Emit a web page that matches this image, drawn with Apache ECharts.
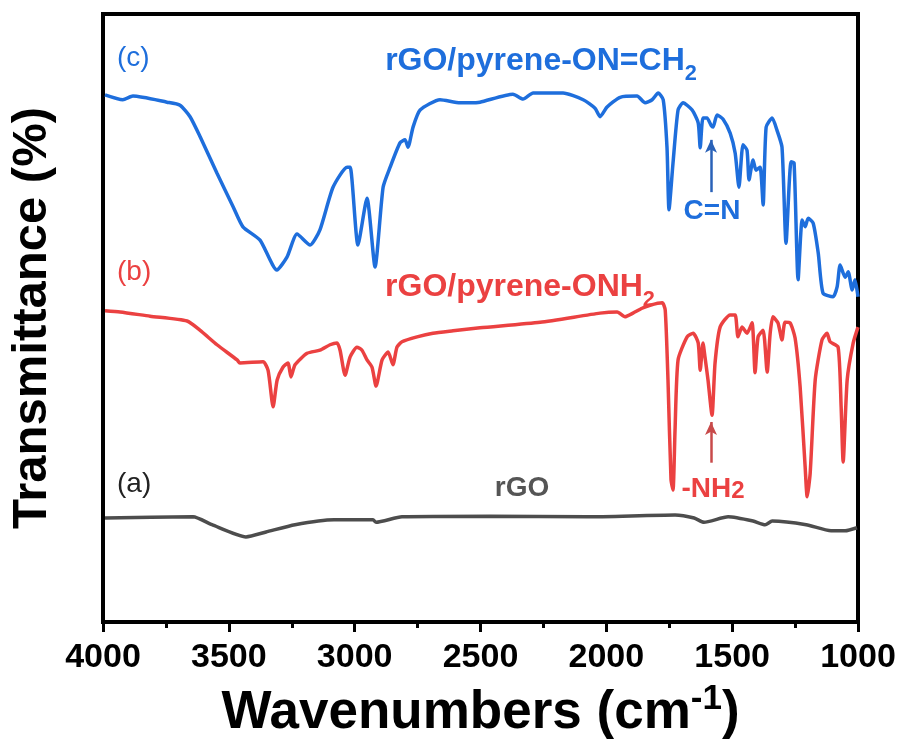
<!DOCTYPE html>
<html>
<head>
<meta charset="utf-8">
<script src="https://cdn.jsdelivr.net/npm/echarts@6/dist/echarts.min.js"></script>
<style>
html, body { margin: 0; padding: 0; background: #fff; }
#main { width: 903px; height: 745px; }
</style>
</head>
<body>
<div id="main"></div>
<script>
// FTIR spectra, [wavenumber (cm-1), transmittance (a.u.)]
var specA = [
  [3992, 17.1], [3642, 17.3], [3567, 16.0], [3432, 14.0], [3352, 14.8], [3237, 16.0],
  [3082, 16.8], [2927, 16.8], [2915, 16.4], [2812, 17.3], [2462, 17.4], [2077, 17.3],
  [1727, 17.6], [1651, 17.1], [1612, 16.4], [1516, 17.3], [1417, 16.6], [1369, 16.0],
  [1341, 16.6], [1206, 16.0], [1107, 15.0], [1051, 15.0], [1004, 15.5]
];
var specB = [
  [3992, 51.2], [3932, 51.0], [3813, 50.3], [3666, 49.5], [3615, 48.0], [3547, 45.6],
  [3467, 43.1], [3456, 42.6], [3364, 42.8], [3344, 41.4], [3324, 35.4], [3308, 39.8],
  [3285, 41.9], [3265, 42.6], [3253, 40.3], [3237, 42.3], [3189, 44.2], [3138, 44.7],
  [3098, 45.6], [3070, 45.9], [3058, 44.7], [3038, 40.6], [3018, 43.6], [2991, 45.2],
  [2971, 44.7], [2951, 43.1], [2931, 41.9], [2915, 38.8], [2891, 43.1], [2867, 44.4],
  [2848, 42.3], [2832, 45.2], [2812, 46.1], [2752, 46.9], [2689, 47.5], [2609, 47.9],
  [2502, 48.4], [2263, 49.3], [2025, 50.8], [1957, 51.0], [1926, 50.2], [1894, 50.8],
  [1858, 51.6], [1826, 52.1], [1778, 52.5], [1766, 51.3], [1755, 39.8], [1743, 23.4],
  [1735, 21.7], [1727, 31.6], [1715, 43.1], [1679, 46.9], [1655, 47.5], [1635, 45.9],
  [1627, 41.4], [1616, 45.9], [1608, 43.6], [1596, 39.8], [1580, 34.0], [1568, 42.6],
  [1548, 48.5], [1508, 50.5], [1488, 50.5], [1477, 46.9], [1461, 48.5], [1441, 47.5],
  [1421, 49.2], [1409, 41.0], [1397, 46.9], [1377, 48.0], [1361, 41.1], [1349, 47.5],
  [1338, 50.2], [1318, 49.2], [1302, 46.4], [1290, 49.3], [1270, 49.2], [1250, 46.7],
  [1230, 38.7], [1210, 25.5], [1202, 20.6], [1190, 24.5], [1170, 39.8], [1143, 46.4],
  [1123, 47.5], [1111, 46.1], [1079, 45.2], [1067, 35.4], [1059, 26.3], [1043, 39.8],
  [1019, 45.9], [1000, 48.5]
];
var specC = [
  [3992, 86.7], [3921, 85.9], [3881, 86.5], [3746, 85.5], [3694, 85.0], [3654, 83.1],
  [3614, 79.8], [3547, 73.8], [3483, 68.3], [3444, 65.0], [3376, 62.8], [3309, 57.9],
  [3269, 60.0], [3229, 63.8], [3177, 62.0], [3138, 64.5], [3086, 71.5], [3030, 74.8],
  [3018, 74.8], [2987, 62.0], [2951, 69.7], [2919, 58.4], [2887, 71.5], [2859, 74.8],
  [2820, 78.8], [2800, 79.3], [2788, 78.1], [2768, 81.4], [2740, 84.2], [2661, 85.9],
  [2581, 85.4], [2542, 85.4], [2502, 85.5], [2371, 86.8], [2331, 86.0], [2291, 87.0],
  [2172, 87.0], [2092, 85.9], [2045, 84.5], [2025, 83.1], [1997, 84.7], [1945, 86.3],
  [1878, 86.5], [1846, 85.4], [1818, 85.9], [1794, 87.0], [1774, 85.9], [1759, 78.1],
  [1751, 67.8], [1735, 75.5], [1715, 84.2], [1695, 85.4], [1659, 84.2], [1635, 82.1],
  [1627, 78.0], [1616, 82.9], [1600, 82.9], [1584, 81.7], [1576, 81.4], [1560, 83.4],
  [1536, 82.7], [1508, 80.4], [1488, 77.1], [1473, 71.5], [1457, 78.5], [1441, 77.6],
  [1433, 72.7], [1417, 76.0], [1405, 74.3], [1389, 74.8], [1377, 68.6], [1365, 81.4],
  [1341, 82.9], [1322, 80.9], [1302, 78.1], [1286, 62.3], [1266, 75.7], [1254, 75.5],
  [1238, 56.3], [1222, 66.1], [1210, 65.0], [1198, 66.4], [1178, 65.6], [1158, 60.7],
  [1139, 54.1], [1099, 53.5], [1083, 55.1], [1071, 58.7], [1051, 56.7], [1039, 57.6],
  [1023, 54.6], [1012, 56.3], [1000, 53.5]
];
var xTicks = [4000, 3500, 3000, 2500, 2000, 1500, 1000];
// arrows: [wavenumber, from, to]
var arrowCN = [1584, 70.7, 79.3];
var arrowNH2 = [1584, 26.2, 32.9];

var font = "'Liberation Sans', Arial, sans-serif";
var cBlue = '#1e6edc', cRed = '#eb4141', cGray = '#4d4d4d';

var chart = echarts.init(document.getElementById('main'));

function arrow(a, color) {
  return {
    silent: true,
    symbol: ['none', 'arrow'],
    symbolSize: [9, 13],
    label: { show: false },
    lineStyle: { color: color, width: 2.5, type: 'solid' },
    data: [[{ coord: [a[0], a[1]] }, { coord: [a[0], a[2]] }]]
  };
}

function subText(x, y, main, sub, color, size) {
  return {
    type: 'text', x: x, y: y,
    style: {
      text: '{m|' + main + '}{s|' + sub + '}',
      textAlign: 'center', textVerticalAlign: 'middle',
      rich: {
        m: { fontFamily: font, fontWeight: 'bold', fontSize: size, lineHeight: size, fill: color, color: color, verticalAlign: 'top' },
        s: { fontFamily: font, fontWeight: 'bold', fontSize: size * 0.68, lineHeight: size * 0.68, fill: color, color: color, verticalAlign: 'top', padding: [size * 0.55, 0, 0, 0] }
      }
    }
  };
}

function plainText(x, y, txt, color, size, weight, align) {
  return {
    type: 'text', x: x, y: y,
    style: {
      text: txt, fill: color, font: weight + ' ' + size + 'px ' + font,
      textAlign: align || 'left', textVerticalAlign: 'middle'
    }
  };
}

var option = {
  backgroundColor: '#fff',
  animation: false,
  grid: {
    left: 103, right: 45, top: 14, bottom: 123,
    show: true, borderColor: '#000', borderWidth: 4
  },
  xAxis: {
    type: 'value',
    inverse: true,
    min: xTicks[xTicks.length - 1],
    max: xTicks[0],
    interval: 500,
    name: '{t|Wavenumbers (cm}{u|-1}{t|)}',
    nameLocation: 'middle',
    nameGap: 60,
    nameTextStyle: {
      rich: {
        t: { fontFamily: font, fontWeight: 'bold', fontSize: 53, color: '#000', lineHeight: 58, verticalAlign: 'bottom' },
        u: { fontFamily: font, fontWeight: 'bold', fontSize: 35, color: '#000', lineHeight: 58, verticalAlign: 'top', padding: [0, 0, 14, 0] }
      }
    },
    axisLine: { lineStyle: { color: '#000', width: 4 } },
    axisTick: { show: true, inside: false, length: 10, lineStyle: { color: '#000', width: 3 } },
    minorTick: { show: true, splitNumber: 2, length: 6, lineStyle: { color: '#000', width: 3 } },
    axisLabel: {
      color: '#000', fontFamily: font, fontWeight: 'bold', fontSize: 34, margin: 19,
      formatter: function (v) { return String(v); }
    },
    splitLine: { show: false }
  },
  yAxis: {
    type: 'value',
    min: 0, max: 100,
    name: 'Transmittance (%)',
    nameLocation: 'middle',
    nameGap: 46,
    nameTextStyle: { fontFamily: font, fontWeight: 'bold', fontSize: 49, color: '#000' },
    axisLine: { show: true, lineStyle: { color: '#000', width: 4 } },
    axisTick: { show: false },
    axisLabel: { show: false },
    splitLine: { show: false }
  },
  series: [
    {
      name: 'rGO', type: 'line', data: specA, showSymbol: false, smooth: 0.2,
      lineStyle: { color: cGray, width: 3.5 }
    },
    {
      name: 'rGO/pyrene-ONH2', type: 'line', data: specB, showSymbol: false, smooth: 0.2,
      lineStyle: { color: cRed, width: 3.5 },
      markLine: arrow(arrowNH2, '#c84a4a')
    },
    {
      name: 'rGO/pyrene-ON=CH2', type: 'line', data: specC, showSymbol: false, smooth: 0.2,
      lineStyle: { color: cBlue, width: 3.5 },
      markLine: arrow(arrowCN, '#2a62b8')
    }
  ],
  graphic: [
    plainText(117, 58, '(c)', cBlue, 28, 'normal'),
    subText(541, 61, 'rGO/pyrene-ON=CH', '2', cBlue, 32),
    plainText(117, 272, '(b)', cRed, 28, 'normal'),
    subText(520, 287, 'rGO/pyrene-ONH', '2', cRed, 32),
    plainText(117, 484, '(a)', '#222', 28, 'normal'),
    plainText(522, 488, 'rGO', '#555', 28, 'bold', 'center'),
    plainText(712, 211, 'C=N', cBlue, 28, 'bold', 'center'),
    {
      type: 'text', x: 713, y: 488,
      style: {
        text: '{m|-NH}{s|2}', textAlign: 'center', textVerticalAlign: 'middle',
        rich: {
          m: { fontFamily: font, fontWeight: 'bold', fontSize: 28, lineHeight: 30, fill: cRed, color: cRed, verticalAlign: 'bottom' },
          s: { fontFamily: font, fontWeight: 'bold', fontSize: 24, lineHeight: 30, fill: cRed, color: cRed, verticalAlign: 'bottom' }
        }
      }
    }
  ]
};

chart.setOption(option);
window.onresize = function () { chart.resize(); };
</script>
</body>
</html>
